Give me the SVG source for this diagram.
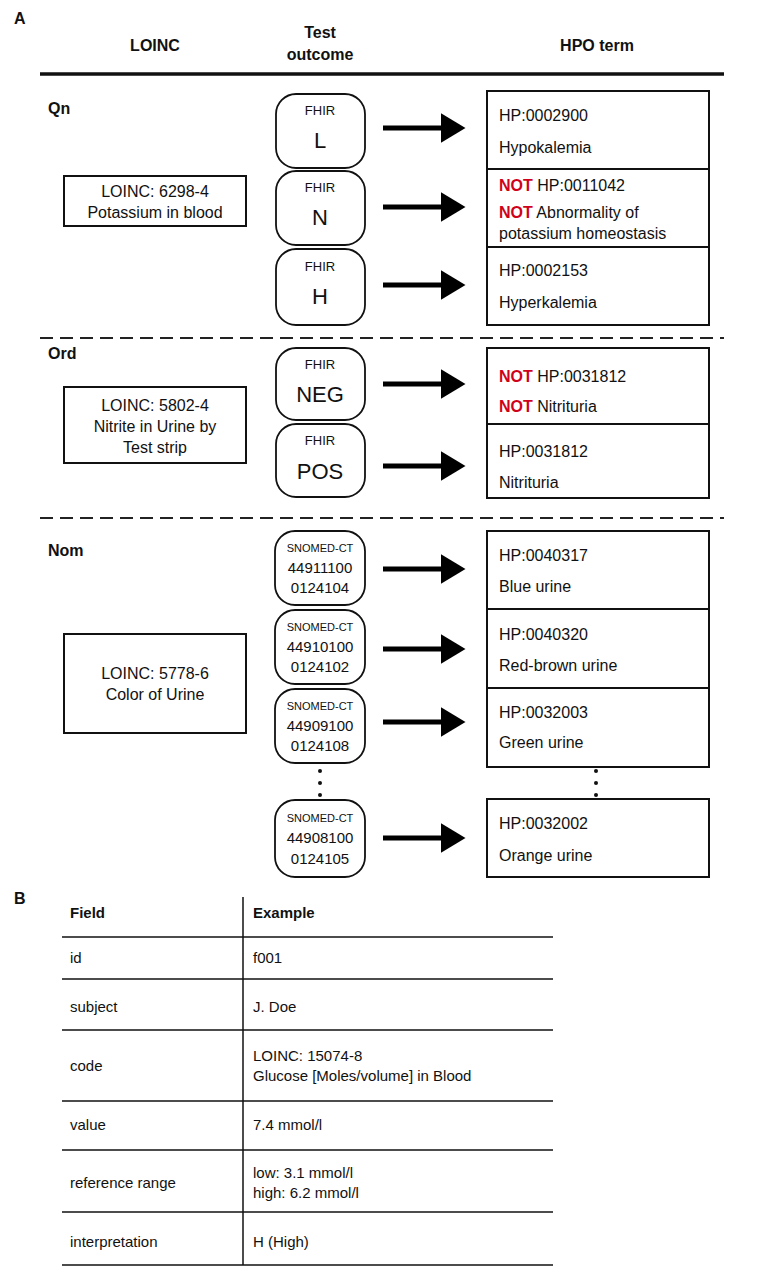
<svg xmlns="http://www.w3.org/2000/svg" width="760" height="1280" viewBox="0 0 760 1280">
<style>
text{font-family:"Liberation Sans",Arial,sans-serif;fill:#111}
.b{font-weight:bold;font-size:16px}
.t{font-size:16px}
.r{fill:#d0021b;font-weight:bold}
.c{text-anchor:middle}
.box{fill:#fff;stroke:#111;stroke-width:2}
.ov{fill:#fff;stroke:#111;stroke-width:1.8}
.dash{stroke:#222;stroke-width:2;stroke-dasharray:13,7}
.ar{stroke:#000;stroke-width:5;marker-end:url(#ah)}
.tl{stroke:#111;stroke-width:1.5}
.f{font-size:13px}
.L{font-size:22px}
.s{font-size:11px}
.n{font-size:15px}
.tb{font-size:15px}
</style>
<defs><marker id="ah" markerWidth="6" markerHeight="6" refX="1.5" refY="3" orient="auto" markerUnits="strokeWidth"><path d="M0,0 L5,3 L0,6 Z" fill="#000"/></marker></defs>
<rect width="760" height="1280" fill="#fff"/>
<g id="header">
<text x="14" y="24" class="b">A</text>
<text x="155" y="51" class="b c">LOINC</text>
<text x="320" y="38" class="b c">Test</text>
<text x="320" y="60" class="b c">outcome</text>
<text x="597" y="51" class="b c">HPO term</text>
<line x1="40" y1="74" x2="724" y2="74" stroke="#111" stroke-width="3.5"/>
<line x1="40" y1="338" x2="724" y2="338" class="dash"/>
<line x1="40" y1="518" x2="724" y2="518" class="dash"/>
<text x="48" y="114" class="b">Qn</text>
<text x="48" y="359" class="b">Ord</text>
<text x="48" y="556" class="b">Nom</text>
</g>
<g id="loinc-qn"><rect x="64" y="176" width="182" height="50" class="box"/><text x="155" y="197" class="t c">LOINC: 6298-4</text><text x="155" y="218" class="t c">Potassium in blood</text></g>
<g id="loinc-ord"><rect x="64" y="387" width="182" height="76" class="box"/><text x="155" y="411" class="t c">LOINC: 5802-4</text><text x="155" y="432" class="t c">Nitrite in Urine by</text><text x="155" y="453" class="t c">Test strip</text></g>
<g id="loinc-nom"><rect x="64" y="634" width="182" height="99" class="box"/><text x="155" y="679" class="t c">LOINC: 5778-6</text><text x="155" y="700" class="t c">Color of Urine</text></g>
<g id="fhir-L"><rect x="276" y="94" width="89" height="74" rx="20" class="ov"/><text x="320" y="115" class="f c">FHIR</text><text x="320" y="148" class="L c">L</text></g>
<g id="fhir-N"><rect x="276" y="171" width="89" height="74" rx="20" class="ov"/><text x="320" y="192" class="f c">FHIR</text><text x="320" y="225" class="L c">N</text></g>
<g id="fhir-H"><rect x="276" y="249" width="89" height="76" rx="20" class="ov"/><text x="320" y="271" class="f c">FHIR</text><text x="320" y="304" class="L c">H</text></g>
<g id="fhir-NEG"><rect x="276" y="348" width="89" height="72" rx="20" class="ov"/><text x="320" y="369" class="f c">FHIR</text><text x="320" y="402" class="L c">NEG</text></g>
<g id="fhir-POS"><rect x="276" y="424" width="89" height="73" rx="20" class="ov"/><text x="320" y="445" class="f c">FHIR</text><text x="320" y="479" class="L c">POS</text></g>
<g id="sn1"><rect x="275" y="531" width="90" height="74" rx="20" class="ov"/><text x="320" y="552" class="s c">SNOMED-CT</text><text x="320" y="573" class="n c">44911100</text><text x="320" y="593" class="n c">0124104</text></g>
<g id="sn2"><rect x="275" y="610" width="90" height="74" rx="20" class="ov"/><text x="320" y="631" class="s c">SNOMED-CT</text><text x="320" y="652" class="n c">44910100</text><text x="320" y="672" class="n c">0124102</text></g>
<g id="sn3"><rect x="275" y="689" width="90" height="74" rx="20" class="ov"/><text x="320" y="710" class="s c">SNOMED-CT</text><text x="320" y="731" class="n c">44909100</text><text x="320" y="751" class="n c">0124108</text></g>
<g id="sn4"><rect x="275" y="800" width="90" height="77" rx="20" class="ov"/><text x="320" y="822" class="s c">SNOMED-CT</text><text x="320" y="843" class="n c">44908100</text><text x="320" y="864" class="n c">0124105</text></g>
<g id="dots" fill="#111"><circle cx="320" cy="771" r="2"/><circle cx="320" cy="783" r="2"/><circle cx="320" cy="795" r="2"/><circle cx="596" cy="771" r="2"/><circle cx="596" cy="783" r="2"/><circle cx="596" cy="795" r="2"/></g>
<g id="hpo1"><rect x="487" y="91" width="222" height="78" class="box"/><text x="499" y="121" class="t">HP:0002900</text><text x="499" y="153" class="t">Hypokalemia</text></g>
<g id="hpo2"><rect x="487" y="169" width="222" height="78" class="box"/><text x="499" y="191" class="t"><tspan class="r">NOT</tspan> HP:0011042</text><text x="499" y="218" class="t"><tspan class="r">NOT</tspan> Abnormality of</text><text x="499" y="239" class="t">potassium homeostasis</text></g>
<g id="hpo3"><rect x="487" y="247" width="222" height="78" class="box"/><text x="499" y="276" class="t">HP:0002153</text><text x="499" y="308" class="t">Hyperkalemia</text></g>
<g id="hpo4"><rect x="487" y="348" width="222" height="76" class="box"/><text x="499" y="382" class="t"><tspan class="r">NOT</tspan> HP:0031812</text><text x="499" y="412" class="t"><tspan class="r">NOT</tspan> Nitrituria</text></g>
<g id="hpo5"><rect x="487" y="424" width="222" height="74" class="box"/><text x="499" y="457" class="t">HP:0031812</text><text x="499" y="488" class="t">Nitrituria</text></g>
<g id="hpo6"><rect x="487" y="531" width="222" height="78" class="box"/><text x="499" y="561" class="t">HP:0040317</text><text x="499" y="592" class="t">Blue urine</text></g>
<g id="hpo7"><rect x="487" y="609" width="222" height="79" class="box"/><text x="499" y="640" class="t">HP:0040320</text><text x="499" y="671" class="t">Red-brown urine</text></g>
<g id="hpo8"><rect x="487" y="688" width="222" height="79" class="box"/><text x="499" y="718" class="t">HP:0032003</text><text x="499" y="748" class="t">Green urine</text></g>
<g id="hpo9"><rect x="487" y="799" width="222" height="78" class="box"/><text x="499" y="829" class="t">HP:0032002</text><text x="499" y="861" class="t">Orange urine</text></g>
<g id="connectors">
<line x1="383" y1="128" x2="448" y2="128" class="ar"/>
<line x1="383" y1="207" x2="448" y2="207" class="ar"/>
<line x1="383" y1="285" x2="448" y2="285" class="ar"/>
<line x1="383" y1="384" x2="448" y2="384" class="ar"/>
<line x1="383" y1="466" x2="448" y2="466" class="ar"/>
<line x1="383" y1="569" x2="448" y2="569" class="ar"/>
<line x1="383" y1="649" x2="448" y2="649" class="ar"/>
<line x1="383" y1="722" x2="448" y2="722" class="ar"/>
<line x1="383" y1="838" x2="448" y2="838" class="ar"/>
</g>
<g id="table">
<text x="14" y="904" class="b">B</text>
<text x="70" y="918" class="tb" font-weight="bold">Field</text>
<text x="253" y="918" class="tb" font-weight="bold">Example</text>
<line x1="243" y1="897" x2="243" y2="1265" class="tl"/>
<line x1="62" y1="937" x2="553" y2="937" class="tl"/>
<line x1="62" y1="979" x2="553" y2="979" class="tl"/>
<line x1="62" y1="1030" x2="553" y2="1030" class="tl"/>
<line x1="62" y1="1101" x2="553" y2="1101" class="tl"/>
<line x1="62" y1="1150" x2="553" y2="1150" class="tl"/>
<line x1="62" y1="1212" x2="553" y2="1212" class="tl"/>
<line x1="62" y1="1265" x2="553" y2="1265" class="tl"/>
<text x="70" y="963" class="tb">id</text><text x="253" y="963" class="tb">f001</text>
<text x="70" y="1012" class="tb">subject</text><text x="253" y="1012" class="tb">J. Doe</text>
<text x="70" y="1071" class="tb">code</text><text x="253" y="1061" class="tb">LOINC: 15074-8</text><text x="253" y="1081" class="tb">Glucose [Moles/volume] in Blood</text>
<text x="70" y="1130" class="tb">value</text><text x="253" y="1130" class="tb">7.4 mmol/l</text>
<text x="70" y="1188" class="tb">reference range</text><text x="253" y="1178" class="tb">low: 3.1 mmol/l</text><text x="253" y="1198" class="tb">high: 6.2 mmol/l</text>
<text x="70" y="1247" class="tb">interpretation</text><text x="253" y="1247" class="tb">H (High)</text>
</g>
</svg>
